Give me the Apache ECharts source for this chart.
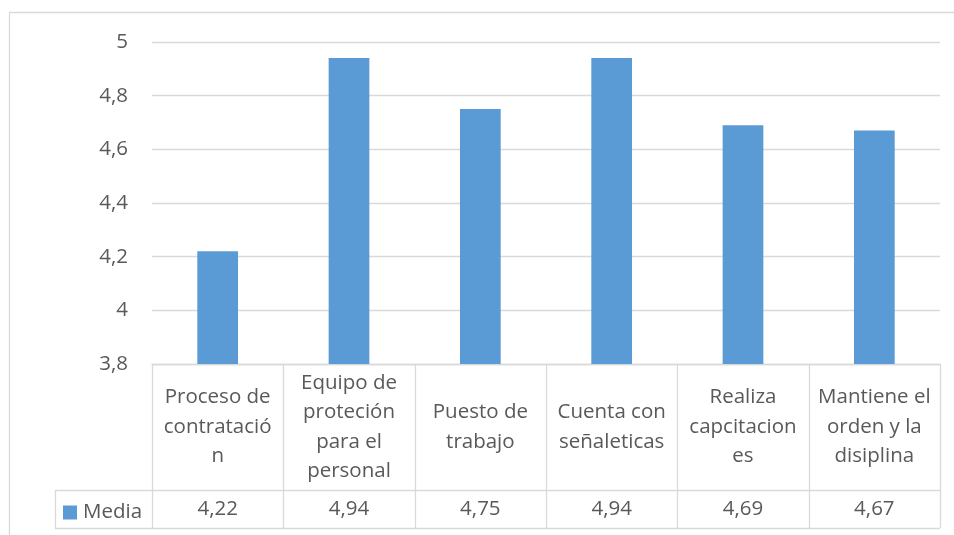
<!DOCTYPE html>
<html>
<head>
<meta charset="utf-8">
<script src="https://cdn.jsdelivr.net/npm/echarts@6/dist/echarts.min.js"></script>
<style>
  html, body { margin: 0; padding: 0; background: #ffffff; }
  #chart { width: 954px; height: 535px; }
</style>
</head>
<body>
<div id="chart"></div>
<script>
// Categories as shown in the data table header (wrapped as they appear in the cells)
const categories = [
  'Proceso de contratación',
  'Equipo de proteción para el personal',
  'Puesto de trabajo',
  'Cuenta con señaleticas',
  'Realiza capcitaciones',
  'Mantiene el orden y la disiplina'
];
const headerLines = [
  ['Proceso de', 'contratació', 'n'],
  ['Equipo de', 'proteción', 'para el', 'personal'],
  ['Puesto de', 'trabajo'],
  ['Cuenta con', 'señaleticas'],
  ['Realiza', 'capcitacion', 'es'],
  ['Mantiene el', 'orden y la', 'disiplina']
];
const seriesName = 'Media';
const mediaValues = [4.22, 4.94, 4.75, 4.94, 4.69, 4.67];
const yTicks = { min: 3.8, max: 5, step: 0.2 };

const FONT = '"Open Sans", Lato, sans-serif';
const FS = 20.5;
const TEXT = '#595959';
const LINE = '#D9D9D9';
const BAR = '#5B9BD5';

// Plot / table layout
const plotLeft = 152, plotRight = 940, plotTop = 42, plotBottom = 364;
const headerBottom = 490, tableBottom = 528, legendCellLeft = 55;

const fmtNum = v => String(Math.round(v * 100) / 100).replace('.', ',');
const fmt2 = v => v.toFixed(2).replace('.', ',');

const chart = echarts.init(document.getElementById('chart'), null, { renderer: 'canvas' });

// Data-table grid lines
const colW = (plotRight - plotLeft) / categories.length;
const tableLines = [];
const hline = (x1, x2, y) => tableLines.push({ type: 'line', silent: true,
  shape: { x1, y1: y + 0.5, x2, y2: y + 0.5 }, style: { stroke: LINE, lineWidth: 1.3 } });
const vline = (x, y1, y2) => tableLines.push({ type: 'line', silent: true,
  shape: { x1: x + 0.5, y1, x2: x + 0.5, y2 }, style: { stroke: LINE, lineWidth: 1.3 } });
hline(legendCellLeft, plotRight, headerBottom);
hline(legendCellLeft, plotRight, tableBottom);
for (let i = 0; i <= categories.length; i++) {
  vline(Math.round(plotLeft + i * colW), plotBottom, tableBottom);
}
vline(legendCellLeft, headerBottom, tableBottom);

chart.setOption({
  animation: false,
  backgroundColor: '#ffffff',
  textStyle: { fontFamily: FONT },
  grid: { left: plotLeft, right: 954 - plotRight, top: plotTop, bottom: 535 - plotBottom, containLabel: false },
  legend: {
    show: true,
    left: 63, top: 502,
    padding: 0,
    itemWidth: 14, itemHeight: 14,
    icon: 'rect',
    data: [seriesName],
    textStyle: { color: TEXT, fontSize: FS, fontFamily: FONT, padding: [1, 0, 0, 1] }
  },
  xAxis: [
    {
      type: 'category',
      data: categories,
      position: 'bottom',
      axisLine: { show: true, lineStyle: { color: LINE, width: 1.3 } },
      axisTick: { show: false },
      splitLine: { show: false },
      axisLabel: {
        interval: 0,
        margin: 63,
        verticalAlign: 'middle',
        align: 'center',
        color: TEXT,
        fontSize: FS,
        lineHeight: 29.5,
        fontFamily: FONT,
        formatter: (val, idx) => headerLines[idx].join('\n')
      }
    },
    {
      type: 'category',
      data: categories,
      position: 'bottom',
      axisLine: { show: false },
      axisTick: { show: false },
      axisLabel: {
        interval: 0,
        margin: 145,
        verticalAlign: 'middle',
        align: 'center',
        color: TEXT,
        fontSize: FS,
        fontFamily: FONT,
        formatter: (val, idx) => fmt2(mediaValues[idx])
      }
    }
  ],
  yAxis: {
    type: 'value',
    min: yTicks.min,
    max: yTicks.max,
    interval: yTicks.step,
    axisLine: { show: false },
    axisTick: { show: false },
    splitLine: { show: true, lineStyle: { color: LINE, width: 1.3 } },
    axisLabel: {
      margin: 24,
      color: TEXT,
      fontSize: FS,
      fontFamily: FONT,
      formatter: v => fmtNum(v)
    }
  },
  series: [{
    name: seriesName,
    type: 'bar',
    xAxisIndex: 0,
    data: mediaValues,
    barWidth: '31%',
    itemStyle: { color: BAR }
  }],
  graphic: [
    { type: 'rect', silent: true, z: -1,
      shape: { x: 9.5, y: 12.5, width: 980, height: 560 },
      style: { fill: null, stroke: LINE, lineWidth: 1.3 } },
    ...tableLines
  ]
});
</script>
</body>
</html>
